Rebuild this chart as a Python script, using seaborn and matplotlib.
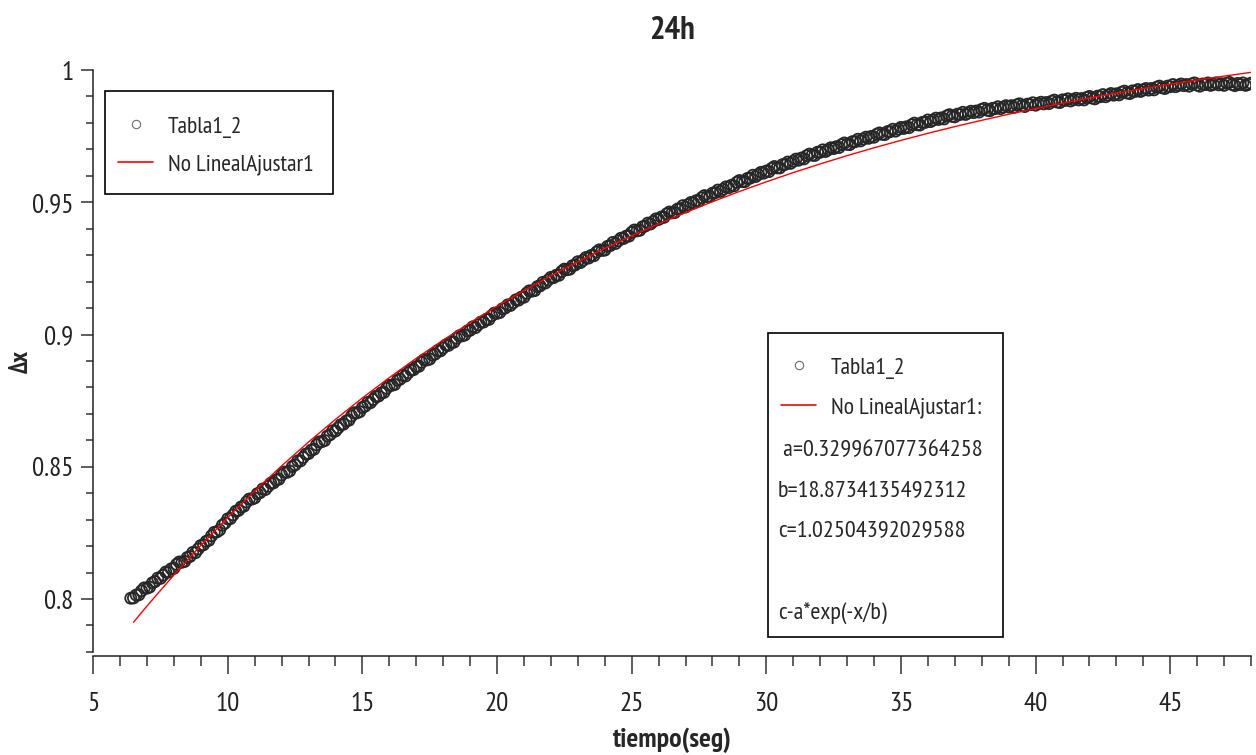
import numpy as np
import pandas as pd
import matplotlib
matplotlib.use("Agg")
import matplotlib.pyplot as plt
import seaborn as sns
from matplotlib import font_manager as fm
from matplotlib.lines import Line2D
from matplotlib.patches import Rectangle
from matplotlib.ticker import MultipleLocator, FuncFormatter

# ---------------- data ----------------
title = "24h"
x_label = "tiempo(seg)"
y_label = "Δx"
series_name = "Tabla1_2"
fit_name = "No LinealAjustar1"
fit_params = [" a=0.329967077364258", "b=18.8734135492312", "c=1.02504392029588"]
fit_formula = "c-a*exp(-x/b)"

# measured points, sampled every 0.1 s starting at 6.4 s
t_start, t_step = 6.4, 0.1
delta_x = [
    0.8003, 0.8004, 0.8015, 0.8016, 0.8031, 0.8042,
    0.8041, 0.8045, 0.8061, 0.8066, 0.8079, 0.8078, 0.8090, 0.8102, 0.8102, 0.8114,
    0.8116, 0.8131, 0.8140, 0.8139, 0.8142, 0.8157, 0.8161, 0.8176, 0.8175, 0.8189,
    0.8202, 0.8205, 0.8218, 0.8222, 0.8239, 0.8252, 0.8254, 0.8261, 0.8279, 0.8287,
    0.8303, 0.8304, 0.8318, 0.8332, 0.8335, 0.8348, 0.8351, 0.8367, 0.8378, 0.8378,
    0.8382, 0.8398, 0.8402, 0.8416, 0.8414, 0.8426, 0.8438, 0.8439, 0.8450, 0.8453,
    0.8469, 0.8480, 0.8479, 0.8484, 0.8501, 0.8507, 0.8522, 0.8522, 0.8535, 0.8548,
    0.8550, 0.8563, 0.8566, 0.8583, 0.8594, 0.8595, 0.8599, 0.8616, 0.8621, 0.8636,
    0.8635, 0.8647, 0.8659, 0.8661, 0.8673, 0.8676, 0.8692, 0.8704, 0.8704, 0.8708,
    0.8724, 0.8729, 0.8743, 0.8742, 0.8754, 0.8766, 0.8767, 0.8779, 0.8781, 0.8797,
    0.8808, 0.8808, 0.8811, 0.8827, 0.8831, 0.8845, 0.8843, 0.8855, 0.8866, 0.8867,
    0.8878, 0.8880, 0.8895, 0.8905, 0.8904, 0.8907, 0.8922, 0.8926, 0.8939, 0.8938,
    0.8949, 0.8960, 0.8959, 0.8970, 0.8971, 0.8986, 0.8995, 0.8995, 0.8998, 0.9013,
    0.9016, 0.9029, 0.9026, 0.9037, 0.9047, 0.9047, 0.9057, 0.9057, 0.9071, 0.9081,
    0.9080, 0.9083, 0.9097, 0.9100, 0.9112, 0.9110, 0.9120, 0.9131, 0.9130, 0.9141,
    0.9141, 0.9156, 0.9165, 0.9164, 0.9166, 0.9181, 0.9184, 0.9197, 0.9195, 0.9206,
    0.9216, 0.9215, 0.9224, 0.9224, 0.9238, 0.9247, 0.9245, 0.9247, 0.9260, 0.9263,
    0.9275, 0.9272, 0.9281, 0.9291, 0.9289, 0.9299, 0.9298, 0.9312, 0.9320, 0.9318,
    0.9319, 0.9333, 0.9336, 0.9348, 0.9344, 0.9354, 0.9364, 0.9363, 0.9372, 0.9372,
    0.9386, 0.9395, 0.9392, 0.9394, 0.9407, 0.9410, 0.9421, 0.9418, 0.9427, 0.9437,
    0.9435, 0.9444, 0.9443, 0.9456, 0.9463, 0.9460, 0.9461, 0.9474, 0.9476, 0.9487,
    0.9482, 0.9491, 0.9499, 0.9497, 0.9506, 0.9505, 0.9517, 0.9525, 0.9521, 0.9522,
    0.9534, 0.9536, 0.9546, 0.9541, 0.9549, 0.9558, 0.9555, 0.9564, 0.9562, 0.9575,
    0.9582, 0.9578, 0.9578, 0.9590, 0.9591, 0.9602, 0.9597, 0.9605, 0.9613, 0.9610,
    0.9618, 0.9616, 0.9628, 0.9635, 0.9630, 0.9630, 0.9642, 0.9643, 0.9652, 0.9647,
    0.9655, 0.9663, 0.9659, 0.9667, 0.9664, 0.9676, 0.9682, 0.9678, 0.9677, 0.9689,
    0.9689, 0.9698, 0.9692, 0.9699, 0.9706, 0.9703, 0.9710, 0.9707, 0.9718, 0.9724,
    0.9719, 0.9718, 0.9729, 0.9729, 0.9738, 0.9732, 0.9739, 0.9746, 0.9742, 0.9749,
    0.9746, 0.9757, 0.9762, 0.9757, 0.9756, 0.9767, 0.9767, 0.9776, 0.9769, 0.9776,
    0.9783, 0.9779, 0.9785, 0.9782, 0.9793, 0.9799, 0.9793, 0.9792, 0.9802, 0.9802,
    0.9811, 0.9805, 0.9811, 0.9818, 0.9813, 0.9819, 0.9815, 0.9826, 0.9831, 0.9825,
    0.9823, 0.9833, 0.9832, 0.9840, 0.9832, 0.9838, 0.9844, 0.9839, 0.9845, 0.9841,
    0.9851, 0.9855, 0.9848, 0.9846, 0.9855, 0.9854, 0.9861, 0.9854, 0.9859, 0.9865,
    0.9860, 0.9865, 0.9859, 0.9868, 0.9872, 0.9865, 0.9862, 0.9871, 0.9869, 0.9876,
    0.9867, 0.9873, 0.9878, 0.9872, 0.9877, 0.9873, 0.9882, 0.9886, 0.9879, 0.9877,
    0.9887, 0.9885, 0.9891, 0.9883, 0.9888, 0.9893, 0.9887, 0.9892, 0.9887, 0.9896,
    0.9900, 0.9894, 0.9891, 0.9901, 0.9899, 0.9907, 0.9899, 0.9905, 0.9911, 0.9905,
    0.9910, 0.9906, 0.9916, 0.9920, 0.9913, 0.9911, 0.9921, 0.9919, 0.9926, 0.9919,
    0.9925, 0.9930, 0.9924, 0.9930, 0.9925, 0.9935, 0.9939, 0.9933, 0.9930, 0.9939,
    0.9937, 0.9945, 0.9937, 0.9942, 0.9947, 0.9941, 0.9945, 0.9939, 0.9947, 0.9951,
    0.9943, 0.9939, 0.9947, 0.9945, 0.9951, 0.9942, 0.9946, 0.9951, 0.9944, 0.9948,
    0.9942, 0.9950, 0.9953, 0.9945, 0.9941, 0.9949, 0.9945, 0.9951, 0.9942, 0.9946,
    0.9950,
]

# fitted curve values
fit_t = [6.5, 7, 8, 9, 10, 11, 12, 13, 14, 15, 16, 17, 18, 19, 20, 21, 22,
         23, 24, 25, 26, 27, 28, 29, 30, 31, 32, 33, 34, 35, 36, 37, 38, 39,
         40, 41, 42, 43, 44, 45, 46, 47, 48]
fit_y = [0.79121, 0.79733, 0.80908, 0.82022, 0.83079, 0.84082, 0.85032,
         0.85934, 0.86789, 0.87600, 0.88369, 0.89099, 0.89790, 0.90447,
         0.91069, 0.91659, 0.92219, 0.92749, 0.93253, 0.93730, 0.94183,
         0.94612, 0.95020, 0.95406, 0.95772, 0.96120, 0.96449, 0.96762,
         0.97058, 0.97339, 0.97606, 0.97859, 0.98098, 0.98326, 0.98541,
         0.98746, 0.98940, 0.99124, 0.99298, 0.99464, 0.99621, 0.99769,
         0.99911]

x_ticks = [5, 10, 15, 20, 25, 30, 35, 40, 45]
y_ticks = [0.8, 0.85, 0.9, 0.95, 1.0]

# ---------------- style ----------------
sns.set_style("ticks")
available = {f.name for f in fm.fontManager.ttflist}
preferred = ['PT Sans Narrow', 'Archivo Narrow', 'Fira Sans Extra Condensed',
             'Roboto Condensed', 'Fira Sans Condensed', 'IBM Plex Sans Condensed',
             'Liberation Sans Narrow', 'Liberation Sans']
main_font = next((f for f in preferred if f in available), 'DejaVu Sans')
plt.rcParams['font.family'] = [main_font, 'DejaVu Sans']

W, H = 1256, 755
fig = plt.figure(figsize=(W / 100, H / 100), dpi=100)


def fx(px):
    return px / W


def fy(py):
    return 1 - py / H


ax = fig.add_axes([fx(93.1), fy(651.9), fx(1251) - fx(93.1), fy(70) - fy(651.9)])

t = t_start + t_step * np.arange(len(delta_x))
df = pd.DataFrame({"t": t, "dx": delta_x})
sns.scatterplot(data=df, x="t", y="dx", ax=ax, marker="o", s=64,
                facecolors="none", edgecolor="#262626", linewidth=1.3,
                legend=False, zorder=2)
sns.lineplot(x=fit_t, y=fit_y, ax=ax, color="red", linewidth=1.0, zorder=3)

ax.set_xlim(5, 48)
ax.set_ylim(0.78, 1.0)
ax.set_xticks(x_ticks)
ax.xaxis.set_minor_locator(MultipleLocator(1))
ax.set_yticks(y_ticks)
ax.yaxis.set_minor_locator(MultipleLocator(0.01))
ax.yaxis.set_major_formatter(FuncFormatter(lambda v, p: f"{v:g}"))

sns.despine(ax=ax)
ax.spines['bottom'].set_position(('outward', 3))
for s in ('left', 'bottom'):
    ax.spines[s].set_linewidth(1.1)
    ax.spines[s].set_color('#222222')

ax.tick_params(axis='x', which='major', length=13, width=1.1, pad=13,
               labelsize=19.5, color='#333333', labelcolor='#222222')
ax.tick_params(axis='x', which='minor', length=7.2, width=1.1, color='#333333')
ax.tick_params(axis='y', which='major', length=8.6, width=1.1, pad=5.5,
               labelsize=19.5, color='#333333', labelcolor='#222222')
ax.tick_params(axis='y', which='minor', length=5, width=1.1, color='#333333')

ax.set_title(title, fontsize=23.5, fontweight='bold', pad=22.5)
ax.set_xlabel(x_label, fontsize=20, fontweight='bold')
ax.xaxis.set_label_coords(0.5, -0.130)
ax.set_ylabel(y_label, fontsize=18, fontweight='bold')
ax.yaxis.set_label_coords(-0.052, 0.5)

# ---------------- legends ----------------
h_pts = Line2D([], [], marker='o', ls='none', mfc='none', mec='#6a6a6a', ms=6, mew=0.8)
h_fit = Line2D([], [], color='red', lw=1.2)
LEG_FS = 17

fig.add_artist(Rectangle((fx(105), fy(194)), fx(333) - fx(105), fy(91) - fy(194),
                         transform=fig.transFigure, fc='white', ec='black', lw=1.2, zorder=4))
fig.legend([h_pts, h_fit], [series_name, fit_name], loc='upper left',
           bbox_to_anchor=(fx(118), fy(116)), frameon=False, fontsize=LEG_FS,
           handlelength=1.5, handletextpad=0.6, labelspacing=0.67,
           borderpad=0, borderaxespad=0)

fig.add_artist(Rectangle((fx(768), fy(637)), fx(1003) - fx(768), fy(333) - fy(637),
                         transform=fig.transFigure, fc='white', ec='black', lw=1.2, zorder=4))
fig.legend([h_pts, h_fit], [series_name, fit_name + ":"], loc='upper left',
           bbox_to_anchor=(fx(781), fy(357)), frameon=False, fontsize=LEG_FS,
           handlelength=1.5, handletextpad=0.6, labelspacing=0.77,
           borderpad=0, borderaxespad=0)
for line, py in zip(fit_params, [451, 491, 531]):
    fig.text(fx(778), fy(py), line, ha='left', va='center', fontsize=17.5, zorder=6)
fig.text(fx(778), fy(613), fit_formula, ha='left', va='center', fontsize=17.5, zorder=6)

fig.savefig("out.png", dpi=100)
